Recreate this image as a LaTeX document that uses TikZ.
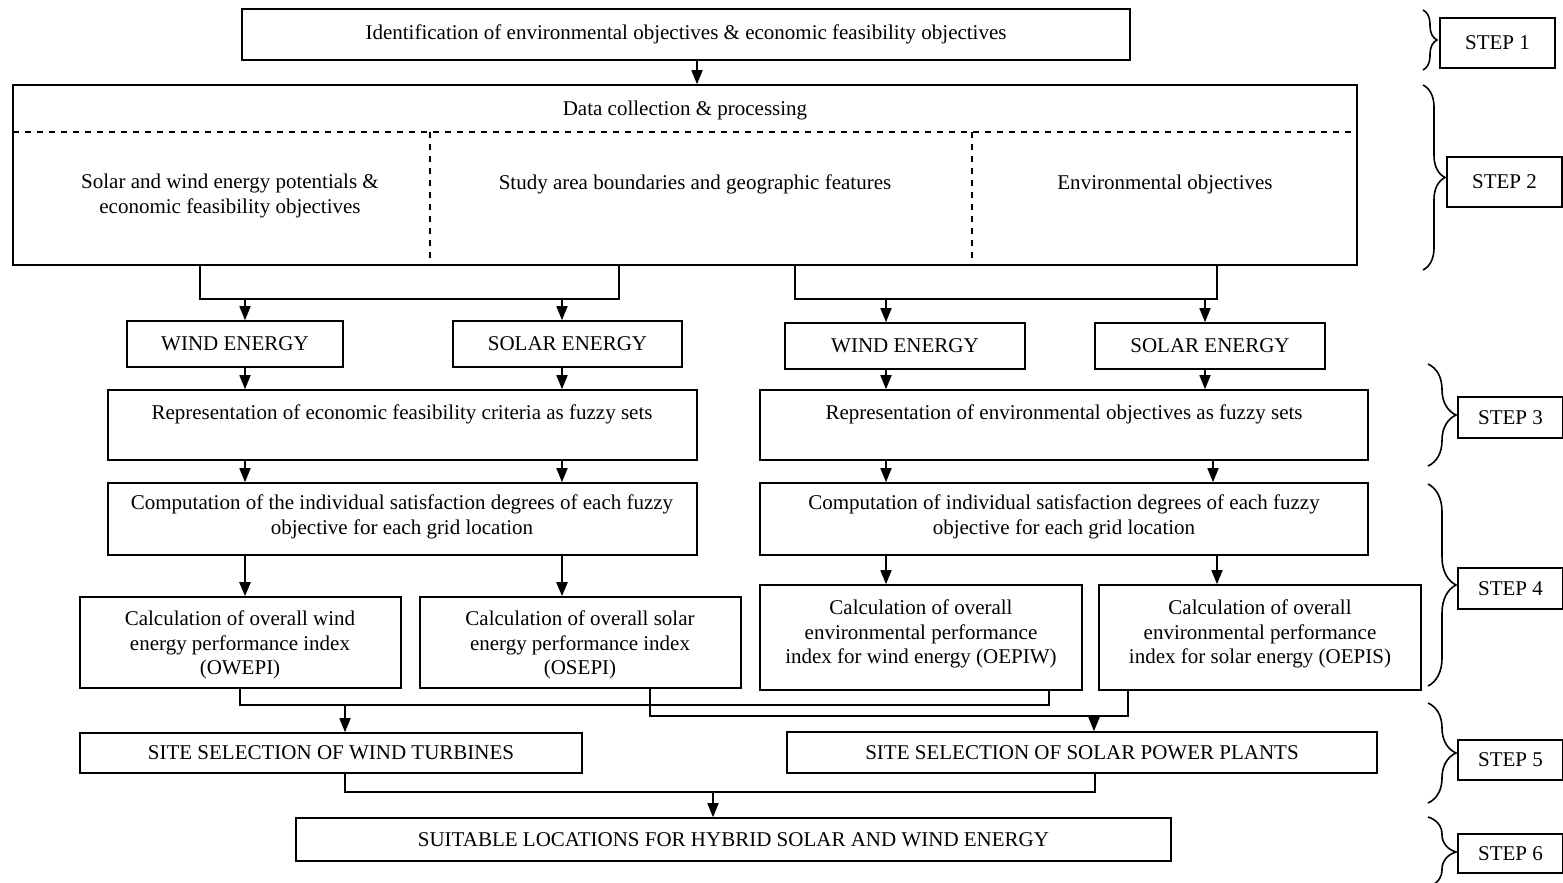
\documentclass[tikz,border=0pt]{standalone}
\usepackage{fontspec}
\setmainfont{Liberation Serif}
\usetikzlibrary{arrows.meta,fit,decorations.pathreplacing}
\begin{document}
\begin{tikzpicture}[x=0.5pt,y=-0.5pt,
 txt/.style={font=\fontsize{10.5}{12.3}\selectfont, align=center},
 box/.style={draw, line width=0.8pt, inner sep=0pt},
 lbl/.style={inner sep=0pt, txt},
 arr/.style={line width=0.8pt, -{Triangle[length=7pt,width=5.5pt]}},
 tarr/.style={line width=1.2pt, -{Triangle[length=7pt,width=5.5pt]}},
 ln/.style={line width=0.8pt},
 dsh/.style={dashed, line width=0.6pt},
 brc/.style={decorate, decoration={brace, amplitude=#1}, line width=0.8pt},
]
\useasboundingbox (0,0) rectangle (1563,883);

% STEP 1 / 2
\node[box, fit={(242,9)(1130,60)}] (s1) {};
\node[lbl] (s1t) at (686,34) {Identification of environmental objectives \& economic feasibility objectives};
\node[box, fit={(13,85)(1357,265)}] (dc) {};
\node[lbl] (dct) at (685,110) {Data collection \& processing};
\coordinate (dl) at (13,132);
\coordinate (va) at (430,132);
\coordinate (vb) at (972,132);
\coordinate (x697) at (697,0);
\draw[arr] (s1.south -| x697) -- (dc.north -| x697);
\draw[dsh] (dl) -- (dl -| dc.east);
\draw[dsh] (va) -- (va |- dc.south);
\draw[dsh] (vb) -- (vb |- dc.south);
\node[lbl] (t1) at (230,196) {Solar and wind energy potentials \&\\economic feasibility objectives};
\node[lbl] (t2) at (695,184) {Study area boundaries and geographic features};
\node[lbl] (t3) at (1165,184) {Environmental objectives};

% energy boxes
\node[box, fit={(127,321)(343,367)}] (we1) {};
\node[lbl] (we1t) at (we1.center) {WIND ENERGY};
\node[box, fit={(453,321)(682,367)}] (se1) {};
\node[lbl] (se1t) at (se1.center) {SOLAR ENERGY};
\node[box, fit={(785,323)(1025,369)}] (we2) {};
\node[lbl] (we2t) at (we2.center) {WIND ENERGY};
\node[box, fit={(1095,323)(1325,369)}] (se2) {};
\node[lbl] (se2t) at (se2.center) {SOLAR ENERGY};

\coordinate (b1) at (200,299); \coordinate (b2) at (619,299);
\coordinate (b3) at (795,299); \coordinate (b4) at (1217,299);
\draw[ln] (b1 |- dc.south) -- (b1) -- (b2) -- (b2 |- dc.south);
\draw[ln] (b3 |- dc.south) -- (b3) -- (b4) -- (b4 |- dc.south);
\coordinate (a1) at (245,299); \coordinate (a2) at (562,299);
\coordinate (a3) at (886,299); \coordinate (a4) at (1205,299);
\coordinate (a5) at (1213,299); \coordinate (a6) at (1217,299);
\draw[arr] (a1) -- (a1 |- we1.north);
\draw[arr] (a2) -- (a2 |- se1.north);
\draw[arr] (a3) -- (a3 |- we2.north);
\draw[arr] (a4) -- (a4 |- se2.north);

% STEP 3
\node[box, fit={(108,390)(697,460)}] (r1) {};
\node[lbl] (r1t) at (402,414) {Representation of economic feasibility criteria as fuzzy sets};
\node[box, fit={(760,390)(1368,460)}] (r2) {};
\node[lbl] (r2t) at (1064,414) {Representation of environmental objectives as fuzzy sets};
\draw[arr] (we1.south -| a1) -- (r1.north -| a1);
\draw[arr] (se1.south -| a2) -- (r1.north -| a2);
\draw[arr] (we2.south -| a3) -- (r2.north -| a3);
\draw[arr] (se2.south -| a4) -- (r2.north -| a4);

% STEP 4
\node[box, fit={(108,483)(697,555)}] (c1) {};
\node[lbl] (c1t) at (402,517) {Computation of the individual satisfaction degrees of each fuzzy\\objective for each grid location};
\node[box, fit={(760,483)(1368,555)}] (c2) {};
\node[lbl] (c2t) at (1064,517) {Computation of individual satisfaction degrees of each fuzzy\\objective for each grid location};
\draw[arr] (r1.south -| a1) -- (c1.north -| a1);
\draw[arr] (r1.south -| a2) -- (c1.north -| a2);
\draw[arr] (r2.south -| a3) -- (c2.north -| a3);
\draw[arr] (r2.south -| a5) -- (c2.north -| a5);

\node[box, fit={(80,597)(401,688)}] (ow) {};
\node[lbl] (owt) at (240,645) {Calculation of overall wind\\energy performance index\\(OWEPI)};
\node[box, fit={(420,597)(741,688)}] (os) {};
\node[lbl] (ost) at (580,645) {Calculation of overall solar\\energy performance index\\(OSEPI)};
\node[box, fit={(760,585)(1082,690)}] (oew) {};
\node[lbl] (oewt) at (921,634) {Calculation of overall\\environmental performance\\index for wind energy (OEPIW)};
\node[box, fit={(1099,585)(1421,690)}] (oes) {};
\node[lbl] (oest) at (1260,634) {Calculation of overall\\environmental performance\\index for solar energy (OEPIS)};
\draw[tarr] (c1.south -| a1) -- (ow.north -| a1);
\draw[tarr] (c1.south -| a2) -- (os.north -| a2);
\draw[arr] (c2.south -| a3) -- (oew.north -| a3);
\draw[arr] (c2.south -| a6) -- (oes.north -| a6);

% STEP 5
\node[box, fit={(80,733)(582,773)}] (sw) {};
\node[lbl] (swt) at (sw.center) {SITE SELECTION OF WIND TURBINES};
\node[box, fit={(787,732)(1377,773)}] (ss) {};
\node[lbl] (sst) at (ss.center) {SITE SELECTION OF SOLAR POWER PLANTS};
\coordinate (e1) at (240,705); \coordinate (e2) at (1049,705);
\coordinate (e3) at (650,716); \coordinate (e4) at (1128,716);
\draw[ln] (e1 |- ow.south) -- (e1) -- (e2) -- (e2 |- oew.south);
\draw[ln] (e3 |- os.south) -- (e3) -- (e4) -- (e4 |- oes.south);
\coordinate (e5) at (345,705); \coordinate (e6) at (1094,716);
\draw[arr] (e5) -- (e5 |- sw.north);
\draw[arr] (e6) -- (e6 |- ss.north);

% STEP 6
\node[box, fit={(296,818)(1171,861)}] (hy) {};
\node[lbl] (hyt) at (hy.center) {SUITABLE LOCATIONS FOR HYBRID SOLAR AND WIND ENERGY};
\coordinate (f1) at (345,792); \coordinate (f2) at (1095,792); \coordinate (f3) at (713,792);
\draw[ln] (f1 |- sw.south) -- (f1) -- (f2) -- (f2 |- ss.south);
\draw[arr] (f3) -- (f3 |- hy.north);

% step labels
\node[box, fit={(1440,18)(1555,68)}] (st1) {};
\node[lbl] (st1t) at (st1.center) {STEP 1};
\node[box, fit={(1447,157)(1562,207)}] (st2) {};
\node[lbl] (st2t) at (st2.center) {STEP 2};
\node[box, fit={(1458,397)(1563,438)}] (st3) {};
\node[lbl] (st3t) at (st3.center) {STEP 3};
\node[box, fit={(1458,568)(1563,609)}] (st4) {};
\node[lbl] (st4t) at (st4.center) {STEP 4};
\node[box, fit={(1458,740)(1563,780)}] (st5) {};
\node[lbl] (st5t) at (st5.center) {STEP 5};
\node[box, fit={(1458,834)(1563,873)}] (st6) {};
\node[lbl] (st6t) at (st6.center) {STEP 6};
\coordinate (g1a) at (1423,10);  \coordinate (g1b) at (1423,70);
\coordinate (g2a) at (1423,85);  \coordinate (g2b) at (1423,270);
\coordinate (g3a) at (1428,364); \coordinate (g3b) at (1428,466);
\coordinate (g4a) at (1428,484); \coordinate (g4b) at (1428,686);
\coordinate (g5a) at (1428,703); \coordinate (g5b) at (1428,803);
\coordinate (g6a) at (1428,817); \coordinate (g6b) at (1428,887);
\draw[brc=7pt] (g1a) -- (g1b);
\draw[brc=11pt] (g2a) -- (g2b);
\draw[brc=14pt] (g3a) -- (g3b);
\draw[brc=14pt] (g4a) -- (g4b);
\draw[brc=14pt] (g5a) -- (g5b);
\draw[brc=14pt] (g6a) -- (g6b);
\end{tikzpicture}
\end{document}
